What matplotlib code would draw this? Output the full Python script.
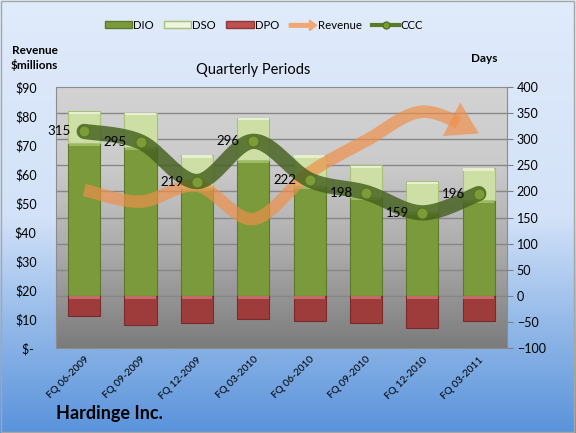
import numpy as np
import matplotlib
matplotlib.use("Agg")
import matplotlib.pyplot as plt
import matplotlib.patches as mpatches
from matplotlib.lines import Line2D
from matplotlib.legend_handler import HandlerPatch
from matplotlib.colors import LinearSegmentedColormap

plt.rcParams['font.family'] = ['Lato', 'DejaVu Sans']

# data
periods = ['FQ 06-2009', 'FQ 09-2009', 'FQ 12-2009', 'FQ 03-2010',
           'FQ 06-2010', 'FQ 09-2010', 'FQ 12-2010', 'FQ 03-2011']
dio = [292, 285, 206, 260, 210, 189, 160, 183]
dso = [62, 66, 64, 81, 60, 61, 60, 62]
dpo = [39, 56, 51, 45, 48, 52, 61, 49]
ccc = [315, 295, 219, 296, 222, 198, 159, 196]
revenue = [54.5, 50.5, 56.0, 44.5, 60.5, 71.5, 81.5, 74.0]

days_ticks = list(range(-100, 401, 50))
rev_ticks = list(range(0, 91, 10))
rev_labels = ['$- '] + ['$%d' % v for v in rev_ticks[1:]]


def smooth(xs, ys, n=30):
    # catmull-rom, like excel's smoothed line
    pts = np.column_stack([xs, ys]).astype(float)
    out = []
    for i in range(len(pts) - 1):
        p0 = pts[max(i - 1, 0)]
        p1 = pts[i]
        p2 = pts[i + 1]
        p3 = pts[min(i + 2, len(pts) - 1)]
        for t in np.linspace(0, 1, n, endpoint=False):
            t2, t3 = t * t, t * t * t
            out.append(0.5 * ((2 * p1) + (-p0 + p2) * t +
                              (2 * p0 - 5 * p1 + 4 * p2 - p3) * t2 +
                              (-p0 + 3 * p1 - 3 * p2 + p3) * t3))
    out.append(pts[-1])
    out = np.array(out)
    return out[:, 0], out[:, 1]


fig = plt.figure(figsize=(5.76, 4.33), dpi=100)

# figure background gradient
bg = fig.add_axes([0, 0, 1, 1], zorder=-10)
bg_cmap = LinearSegmentedColormap.from_list(
    'bg', [(0, '#5a93db'), (0.25, '#93b9e8'), (0.5, '#d3e2f8'), (1, '#e0ebfb')])
bg.imshow(np.linspace(0, 1, 256).reshape(-1, 1), aspect='auto', cmap=bg_cmap,
          extent=[0, 1, 0, 1], origin='lower')
bg.set_xlim(0, 1)
bg.set_ylim(0, 1)
bg.axis('off')
bg.add_patch(mpatches.Rectangle((0.002, 0.003), 0.995, 0.994, fill=False,
                                edgecolor='#a6a6a6', lw=1))

ax = fig.add_axes([0.0972, 0.196, 0.783, 0.603])
x = np.arange(len(periods))

# plot area gradient
pa_cmap = LinearSegmentedColormap.from_list(
    'pa', [(0, '#7b7b7b'), (0.35, '#a9a9a9'), (0.7, '#cbcbcb'), (1, '#d3d3d3')])
ax.imshow(np.linspace(0, 1, 256).reshape(-1, 1), aspect='auto', cmap=pa_cmap,
          extent=[-0.5, len(periods) - 0.5, -100, 400], origin='lower', zorder=0)

ax.set_xlim(-0.5, len(periods) - 0.5)
ax.set_ylim(-100, 400)
for t in days_ticks[1:-1]:
    ax.axhline(t, color='#878787', lw=1, zorder=1)

w = 0.57
ax.bar(x, dio, w, color='#7a9a3c', edgecolor='#5d7a2a', lw=0.8, zorder=2)
ax.bar(x, dso, w, bottom=dio, color='#cddfa4', edgecolor='#a9c07a', lw=0.8, zorder=2)
ax.bar(x, [-v for v in dpo], w, color='#9e3c3b', edgecolor='#7a2a2a', lw=0.8, zorder=2)
# thin highlight at the top of each segment
ax.bar(x, [4] * len(x), w * 0.96, bottom=[a - 5 for a in dio], color='#9cba5e', lw=0, zorder=3)
ax.bar(x, [4] * len(x), w * 0.96, bottom=[a + b - 5 for a, b in zip(dio, dso)],
       color='#e6f0cf', lw=0, zorder=3)
ax.bar(x, [4] * len(x), w * 0.96, bottom=[-5] * len(x), color='#c66a68', lw=0, zorder=3)

ax.set_xticks(x)
ax.set_xticklabels(periods, rotation=45, ha='right', rotation_mode='anchor', fontsize=7.3)
ax.tick_params(axis='x', length=0, pad=5)
for s in ax.spines.values():
    s.set_color('#8c8c8c')

# revenue on the left axis, drawn above the bars
axl = ax.twinx()
axl.set_ylim(0, 90)
axl.set_xlim(-0.5, len(periods) - 0.5)
for s in axl.spines.values():
    s.set_visible(False)

sx, sy = smooth(x, revenue)
cut = len(sx) - 14
rev_col = '#f08f48'
axl.plot(sx[:cut + 1], sy[:cut + 1], color=rev_col, lw=9, alpha=0.68,
         solid_capstyle='butt', zorder=4)
axl.annotate('', xy=(sx[-1], sy[-1]), xytext=(sx[cut], sy[cut]),
             arrowprops=dict(arrowstyle='simple,head_length=1.3,head_width=1.6,tail_width=0.01',
                             color=rev_col, alpha=0.68, lw=0, mutation_scale=17,
                             shrinkA=0, shrinkB=0), zorder=4)

# CCC on the days scale, on top
axc = ax.twinx()
axc.set_ylim(-100, 400)
axc.set_xlim(-0.5, len(periods) - 0.5)
axc.set_yticks([])
for s in axc.spines.values():
    s.set_visible(False)
cx, cy = smooth(x, ccc)
axc.plot(cx, cy, color='#45601e', lw=11, alpha=0.82, solid_capstyle='round', zorder=5)
axc.plot(x, ccc, 'o', ms=8, color='#7c9c38', mec='#55731f', mew=0.8, zorder=6)
for xi, v in zip(x, ccc):
    axc.text(xi - 0.24, v, str(v), ha='right', va='center', fontsize=9.5, color='black', zorder=7)

# tick sides set after twinx, which resets them
ax.yaxis.tick_right()
ax.set_yticks(days_ticks)
ax.tick_params(axis='y', labelsize=9, length=4, color='#808080', pad=3,
               left=False, labelleft=False, right=True, labelright=True)
axl.yaxis.tick_left()
axl.set_yticks(rev_ticks)
axl.set_yticklabels(rev_labels)
axl.tick_params(axis='y', labelsize=9, length=0, pad=14,
                right=False, labelright=False)


def make_arrow(legend, orig_handle, xdescent, ydescent, width, height, fontsize):
    return mpatches.FancyArrow(0, height / 2, width, 0, width=height * 0.55,
                               head_width=height * 1.6, head_length=height * 1.1,
                               length_includes_head=True)


handles = [mpatches.Patch(facecolor='#7a9a3c', edgecolor='#5d7a2a', label='DIO'),
           mpatches.Patch(facecolor='#eef5dc', edgecolor='#a9c07a', label='DSO'),
           mpatches.Patch(facecolor='#c0504d', edgecolor='#8a3a38', label='DPO'),
           mpatches.FancyArrow(0, 0, 1, 0, color='#f2a672', label='Revenue'),
           Line2D([], [], color='#5a7a2a', lw=3, marker='o', ms=5,
                  mfc='#7c9c38', mec='#55731f', label='CCC')]
fig.legend(handles=handles, loc='center', bbox_to_anchor=(0.458, 0.942), ncol=5,
           frameon=False, fontsize=8.2, handlelength=2.4, handleheight=0.5,
           columnspacing=0.9, handletextpad=0.1,
           handler_map={mpatches.FancyArrow: HandlerPatch(patch_func=make_arrow)})

fig.text(0.06, 0.865, 'Revenue\n$millions', ha='center', va='center',
         fontsize=8.5, fontweight='bold', linespacing=1.3)
fig.text(0.84, 0.866, 'Days', ha='center', va='center', fontsize=8.5, fontweight='bold')
fig.text(0.44, 0.838, 'Quarterly Periods', ha='center', va='center', fontsize=10.5)
fig.text(0.097, 0.046, 'Hardinge Inc.', ha='left', va='center', fontsize=13, fontweight='bold')

fig.savefig('out.png', dpi=100)
